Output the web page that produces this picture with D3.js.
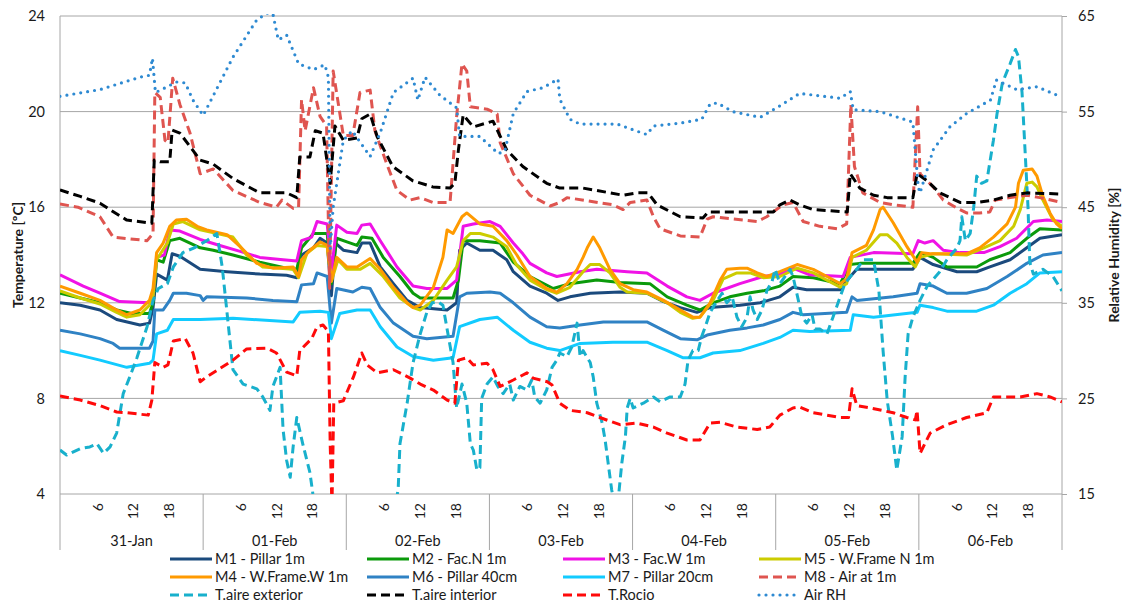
<!DOCTYPE html>
<html>
<head>
<meta charset="utf-8">
<title>Temperature and RH, 31-Jan to 06-Feb</title>
<style>
body { margin: 0; background: #fff; }
svg text { font-family: Lato, "Open Sans", sans-serif; fill: #1a1a1a; }
.grid line { stroke: #a6a6a6; stroke-width: 1; }
</style>
</head>
<body>
<svg width="1126" height="604"></svg>
<script src="https://d3js.org/d3.v7.min.js"></script>
<script>
// values, as [hour since 31-Jan 00:00, value]
var days = ["31-Jan", "01-Feb", "02-Feb", "03-Feb", "04-Feb", "05-Feb", "06-Feb"];
var hourTicks = [6, 12, 18];
var tempTicks = [4, 8, 12, 16, 20, 24];
var rhTicks = [15, 25, 35, 45, 55, 65];

var m1 = [[0,12.0],[3.4,11.9],[6.7,11.7],[9.5,11.3],[13.4,11.07],[15,11.15],[15.6,11.8],[16.2,13.2],[18,12.95],[18.8,14.05],[20.1,13.95],[23.5,13.4],[28,13.3],[33.5,13.2],[38,13.15],[39.7,13.05],[40.5,14.0],[42.5,14.3],[43.6,14.7],[44.8,14.5],[45.5,12.3],[46.2,14.5],[47.5,14.2],[49.8,14.1],[50.6,14.5],[52,14.5],[53.7,13.5],[55.9,12.8],[58.2,12.1],[60.4,11.8],[64.9,11.7],[66.5,12.0],[67,14.2],[68.2,14.5],[70.4,14.2],[72.6,14.2],[74.9,13.8],[76,13.3],[78.8,12.7],[81.6,12.4],[83.5,12.1],[85.5,12.25],[88.9,12.4],[93.9,12.45],[98.4,12.4],[101.2,12.05],[104,11.8],[106.8,11.6],[109,11.8],[114,11.9],[117.4,12.0],[120.7,12.25],[122.9,12.65],[125.2,12.55],[130.8,12.55],[132.5,13.1],[133.6,13.4],[143,13.4],[144.2,13.9],[146.4,13.6],[150.4,13.3],[153.7,13.3],[155.9,13.5],[159.3,13.8],[162.1,14.3],[164.3,14.7],[168,14.85]];
var m2 = [[0,12.4],[3.4,12.2],[6.7,12.0],[9.5,11.7],[12,11.55],[15,11.55],[15.6,12.0],[16.2,13.8],[17.3,13.7],[18.4,14.6],[20.1,14.7],[23.5,14.3],[25.7,14.2],[29,14.0],[33.5,13.7],[38,13.45],[39.7,13.4],[40.5,14.3],[42.5,14.9],[44.8,14.9],[45.5,12.8],[46.4,14.7],[48.1,14.55],[49.8,14.4],[50.6,14.75],[52.3,14.7],[54.2,13.9],[57,13.1],[59.2,12.4],[60.4,12.2],[65.9,12.2],[66.8,12.95],[67.6,14.6],[70.4,14.6],[73.8,14.5],[76,13.7],[78.8,13.1],[82.7,12.6],[85.5,12.8],[90,12.95],[93.9,12.85],[98.9,12.8],[101.8,12.25],[105.1,11.9],[107.3,11.7],[109.5,12.0],[112.3,12.25],[115.2,12.4],[117.9,12.5],[120.7,12.7],[122.9,13.1],[126.3,13.05],[130.8,12.8],[132.5,13.6],[134.1,13.65],[143,13.65],[144.2,14.1],[146.4,13.9],[148.7,13.5],[153.7,13.5],[155.9,13.8],[159.3,14.1],[162.1,14.7],[164.3,15.1],[168,15.05]];
var m3 = [[0,13.17],[3.9,12.7],[6.7,12.4],[10,12.05],[15,12.0],[15.6,12.3],[16.2,13.9],[17.5,14.0],[18.4,15.05],[20.1,15.0],[23.5,14.65],[26.8,14.4],[30.2,14.15],[33.5,13.9],[37.4,13.8],[39.7,13.75],[40.5,14.6],[42.2,14.75],[43.1,15.4],[44.8,15.3],[45.5,13.3],[46.4,15.25],[48.1,14.95],[49.8,14.9],[50.6,15.25],[52,15.3],[53.7,14.6],[56.5,13.5],[59.2,12.7],[61.5,12.6],[64.9,12.6],[66.5,12.95],[67.6,15.2],[69.3,15.3],[72.1,15.4],[73.8,15.2],[76,14.5],[77.6,14.05],[78.8,13.65],[81.6,13.25],[83.3,13.1],[87.2,13.3],[90,13.4],[95.1,13.3],[98.4,13.25],[101.8,12.7],[105.1,12.25],[107.3,12.1],[109.5,12.4],[114,12.8],[117.9,13.1],[120.7,13.2],[122.9,13.45],[125.7,13.17],[131.3,13.1],[132.5,13.9],[136.4,14.1],[143,14.05],[143.9,14.6],[145,14.5],[146.4,14.6],[148.1,14.2],[150.9,14.1],[154.9,14.1],[157.6,14.35],[160.4,14.7],[163.2,15.4],[165.5,15.46],[168,15.4]];
var m5 = [[0,12.5],[3.4,12.2],[6.7,11.95],[9.5,11.6],[11.2,11.4],[13.4,11.5],[15,11.9],[15.6,12.3],[16.2,13.8],[18,14.5],[19,15.3],[20.6,15.4],[23.5,15.05],[29,14.75],[31.3,14.0],[34,13.5],[39.1,13.4],[40,13.05],[41.4,14.07],[43.1,14.4],[44.8,14.35],[45.5,12.9],[46.6,13.8],[48.1,13.4],[50.3,13.4],[52,13.65],[54.2,13.1],[57,12.2],[59.2,11.8],[60.4,11.7],[62.6,12.1],[64.9,12.95],[66.5,13.5],[67.6,14.6],[68.8,14.9],[70.4,14.9],[72.6,14.75],[74.9,14.35],[76.5,13.6],[78.8,12.95],[81.6,12.55],[83.3,12.4],[85.5,12.65],[87.7,13.3],[88.9,13.6],[90.5,13.6],[92.2,13.25],[93.9,12.65],[95.1,12.45],[98.4,12.4],[101.8,12.0],[104,11.6],[106.1,11.35],[107.3,11.4],[109.5,12.1],[111.2,13.0],[113.5,13.25],[115.7,13.25],[117.9,13.05],[120.7,13.1],[123.6,13.45],[126.3,13.25],[130.8,12.65],[131.9,12.8],[132.8,13.9],[135.2,14.2],[137.5,14.85],[138.7,14.85],[140.3,14.5],[142,13.9],[143.4,13.5],[144.2,13.9],[146.4,14.05],[152,14.0],[154.9,14.3],[157.6,14.6],[159.9,15.2],[161,15.9],[162.1,17.0],[163,17.05],[163.8,16.85],[164.8,16.3],[166.5,15.46],[168,15.2]];
var m4 = [[0,12.7],[3.4,12.4],[6.7,12.1],[9.5,11.7],[11.2,11.5],[13.4,11.7],[15,12.1],[15.6,12.6],[16.2,14.1],[17.3,14.5],[18.4,15.2],[19.5,15.46],[21.2,15.5],[23,15.2],[24.6,15.05],[28,14.85],[30.2,14.35],[33,13.65],[35.7,13.45],[39.1,13.5],[40,13.1],[40.5,13.8],[41.9,14.2],[43.6,14.55],[44.8,14.4],[45.5,12.9],[46.4,13.9],[48.1,13.5],[49.8,13.5],[52,13.85],[53.7,13.4],[55.9,12.65],[58.2,12.0],[59.2,11.8],[60.4,11.9],[62.6,12.65],[64.2,13.9],[64.9,15.05],[65.9,14.9],[67.4,15.6],[68.2,15.76],[70.4,15.3],[72.6,15.2],[74.9,14.6],[76.6,14.0],[78.8,13.1],[81.6,12.6],[83.3,12.45],[85,12.8],[86.7,13.4],[87.7,13.9],[88.4,14.3],[89.4,14.75],[90.5,14.3],[92.2,13.4],[93.9,12.8],[96.1,12.55],[98.4,12.45],[101.2,12.1],[104,11.7],[106.1,11.4],[107.3,11.4],[109,12.0],[110.7,12.95],[111.8,13.4],[114,13.45],[115.2,13.45],[116.9,13.25],[118.5,13.1],[120.7,13.3],[123.6,13.6],[126.3,13.4],[128.6,13.1],[130.8,12.8],[131.9,13.0],[132.8,14.1],[135.2,14.4],[136.4,15.05],[137.5,15.9],[138,16.0],[139.7,15.35],[142,14.35],[143.7,13.7],[144.5,14.1],[145.9,14.05],[152,14.05],[154.2,14.3],[156.5,14.75],[158.8,15.3],[160.2,16.0],[160.7,17.0],[161.5,17.55],[163,17.6],[163.8,17.3],[164.8,16.45],[166,15.75],[167.1,15.3],[168,15.1]];
var m6 = [[0,10.85],[3.4,10.7],[6.7,10.5],[8.9,10.3],[10,10.1],[15,10.1],[15.6,10.4],[15.9,11.7],[17.3,11.7],[18.4,12.1],[19,12.4],[21.2,12.4],[23.5,12.3],[24,12.1],[24.6,12.25],[31.3,12.2],[35.7,12.1],[39.7,12.04],[40.5,12.75],[42.5,12.8],[43.1,13.25],[44.8,13.1],[45.5,11.15],[46.4,12.6],[49.1,12.45],[50.6,12.65],[52,12.6],[53.7,11.8],[55.9,11.15],[59.2,10.6],[61.5,10.5],[65.9,10.6],[67,12.25],[68.2,12.4],[72.1,12.45],[73.8,12.4],[76,12.0],[78.8,11.4],[81.6,11.0],[83.8,10.95],[87.2,11.07],[91.1,11.2],[98.4,11.2],[101.2,10.85],[104,10.5],[106.8,10.45],[108.5,10.65],[112.3,10.85],[115.2,10.95],[117.9,11.07],[120.7,11.3],[122.9,11.6],[124.6,11.5],[131.9,11.6],[132.8,12.25],[133.6,12.1],[139.7,12.25],[143.7,12.4],[144.2,12.8],[146.4,12.7],[148.7,12.4],[152,12.4],[155.4,12.6],[158.8,13.1],[162.1,13.65],[164.8,14.0],[168,14.1]];
var m7 = [[0,10.0],[3.4,9.8],[6.7,9.6],[11.2,9.3],[15,9.47],[15.6,9.6],[16.2,10.7],[18,10.85],[19,11.3],[23.5,11.3],[29,11.35],[39.1,11.2],[40.2,11.6],[43.6,11.65],[45,11.6],[45.5,10.5],[46.9,11.55],[49.8,11.7],[52,11.7],[53.7,11.0],[56.5,10.15],[59.2,9.75],[62.6,9.6],[65.9,9.7],[67,11.0],[70.4,11.3],[73.3,11.4],[76,10.85],[78.8,10.35],[81.6,10.1],[83.8,10.0],[87.2,10.3],[92.7,10.35],[98.4,10.35],[101.8,10.0],[104.5,9.7],[107.3,9.7],[109.5,9.9],[114,10.0],[117.9,10.3],[120.7,10.55],[122.9,10.85],[125.7,10.8],[132.5,10.85],[133,11.5],[136.4,11.4],[143.7,11.6],[144.2,11.9],[146.4,11.8],[148.7,11.65],[153.7,11.65],[156.5,11.9],[159.3,12.4],[162.1,12.8],[164.3,13.25],[168,13.3]];
var m8 = [[0,16.13],[3,16.0],[6.7,15.6],[8.9,14.75],[14.6,14.6],[15.6,14.9],[15.9,20.8],[16.8,20.6],[17.6,18.8],[18.1,18.7],[18.9,21.4],[20.1,20.3],[21.8,19.1],[23.5,17.4],[25.7,17.6],[29,16.7],[33.5,16.2],[36.3,16.0],[37.2,16.3],[39.1,15.95],[40,16.0],[40.5,20.5],[41.1,19.2],[42.5,21.0],[43.6,19.8],[44.7,19.4],[45.2,12.6],[45.8,21.7],[47.5,19.0],[49.1,19.0],[50.3,20.8],[52,20.9],[52.8,19.2],[54.8,17.8],[56.5,16.7],[58.7,16.3],[60.4,16.4],[62.5,16.2],[65.4,16.2],[66.5,19.8],[67.4,22.0],[68.2,21.7],[68.8,20.2],[71.6,20.1],[73.3,19.9],[73.8,18.7],[76,17.4],[78.8,16.5],[82.2,16.05],[83.8,16.2],[85,16.4],[92.7,16.1],[94.4,15.9],[95.6,16.2],[98.4,16.3],[99.5,15.6],[100.6,15.1],[104,14.8],[107.3,14.75],[108.5,15.5],[109.5,15.6],[116.9,15.4],[118.5,15.6],[121.2,16.1],[122.9,16.2],[124.6,15.4],[127.4,15.2],[130.3,15.1],[131.9,15.3],[132.6,20.3],[133.2,17.7],[134.6,16.6],[137.5,16.2],[139.7,16.1],[143,16.0],[143.8,20.2],[144.2,17.4],[146.4,16.85],[148.1,16.3],[150.4,15.96],[152,15.76],[154.2,15.76],[155.9,15.8],[156.8,16.3],[159.3,16.4],[162.1,16.5],[164.3,16.4],[168,16.2]];
var tExt = [[0,5.84],[1.1,5.63],[3.4,5.9],[5,5.97],[6.2,6.1],[7.3,5.7],[8.4,5.97],[9.5,6.55],[10.6,8.2],[11.7,8.9],[12.9,9.7],[14.6,11.0],[15.6,12.1],[16.5,12.6],[18,12.8],[19,13.5],[20.6,14.1],[22.5,14.3],[24.6,14.6],[26.3,14.9],[27.2,13.5],[28,11.6],[29,9.2],[30.7,8.6],[33,8.4],[34,8.06],[35.2,7.5],[35.7,8.5],[36.9,9.3],[37.4,6.7],[38,5.4],[38.6,4.7],[39.1,6.0],[39.7,7.2],[40.7,6.1],[41.9,4.9],[42.4,4.0],[43.5,2.5],[55.5,2.5],[56.7,4.2],[57,6.1],[58.2,7.8],[59.2,9.5],[60.4,10.7],[61.5,11.6],[62.4,12.0],[63.4,12.04],[64.2,11.9],[64.9,10.9],[65.9,9.5],[66.5,7.6],[67.4,8.6],[68.2,7.8],[68.8,6.1],[69.3,5.84],[69.9,5.0],[70.4,5.1],[70.7,8.0],[71.6,8.6],[72.6,8.9],[73.4,8.5],[74.3,8.2],[75.4,8.6],[76,7.93],[77.1,8.5],[78.3,8.35],[79.1,8.77],[79.6,8.06],[80.5,7.8],[81.6,8.35],[82.5,9.3],[83.3,9.6],[83.8,9.9],[85,9.75],[85.8,10.15],[86.7,11.15],[87.2,9.75],[87.7,10.0],[88.9,9.5],[89.4,8.9],[90,7.8],[90.9,6.97],[91.4,6.26],[91.9,5.3],[92.5,4.17],[92.8,3.8],[93.6,3.8],[94.2,5.3],[94.8,6.4],[95.1,7.6],[95.6,8.0],[96.1,7.6],[97.8,7.8],[99.5,8.06],[100.6,7.86],[102.3,8.06],[104,8.06],[104.8,8.6],[105.3,9.6],[106.1,10.0],[107,10.0],[107.6,10.6],[108.2,11.0],[109,11.6],[110.2,12.1],[111,12.4],[111.8,12.0],[112.7,12.25],[113.5,11.4],[114.3,11.0],[115.2,11.4],[115.7,12.25],[116.2,11.7],[116.9,11.3],[117.7,11.7],[118.5,12.5],[119.4,12.9],[119.9,13.4],[120.7,12.8],[122.4,13.4],[122.9,13.1],[123.8,12.1],[124.4,11.4],[125.2,11.15],[126.1,11.5],[126.6,10.9],[127.4,10.9],[128.6,10.7],[129.6,11.4],[130.8,12.25],[131.6,12.8],[132.5,13.1],[133.6,13.4],[134.7,13.8],[136.4,13.8],[137.3,12.5],[138,10.0],[138.7,7.9],[139.6,6.4],[140.3,5.0],[141.2,6.4],[141.7,8.9],[142.2,10.7],[143,11.4],[144.2,12.1],[145.4,12.7],[147.5,13.3],[148.7,13.8],[150.4,14.3],[150.9,14.6],[151.2,15.6],[151.8,14.6],[152.6,14.9],[153.2,16.0],[153.7,17.3],[154.5,17.0],[155.4,17.1],[156.5,18.8],[157.1,19.9],[158,21.2],[159.3,22.0],[160.2,22.6],[160.7,22.3],[161.3,20.8],[161.8,18.4],[162.3,16.0],[162.6,13.7],[163.2,13.2],[164.8,13.4],[166.5,13.1],[168,12.5]];
var tInt = [[0,16.72],[3.4,16.45],[6.7,16.17],[9,15.8],[11.2,15.46],[15.4,15.33],[15.8,17.97],[16.8,17.9],[18.4,17.9],[18.8,19.23],[20.1,19.1],[23.5,17.97],[25.7,17.8],[29,17.2],[33.5,16.6],[38,16.6],[39.7,16.4],[40.2,18.1],[41.9,18.1],[42.8,19.2],[44.1,19.1],[45.3,17.0],[46.1,19.4],[47.5,18.8],[49.8,18.9],[50.6,19.7],[52,19.9],[53.2,18.94],[55.8,17.7],[59.2,17.1],[62.5,16.85],[65.4,16.8],[66.2,17.0],[66.8,18.4],[67.6,19.86],[69.3,19.36],[72.6,19.6],[74.9,18.4],[77.6,17.7],[81.6,17.0],[83.8,16.8],[87.7,16.8],[90,16.7],[94.4,16.5],[96.7,16.6],[98.6,16.6],[100.1,16.1],[104,15.6],[107.8,15.55],[108.7,15.8],[119.6,15.8],[120.7,16.1],[122.4,16.3],[124,16.1],[126.3,15.9],[132,15.8],[132.5,17.4],[134.1,16.8],[136.4,16.5],[138.7,16.4],[143,16.4],[143.7,17.4],[145.4,17.1],[147.5,16.6],[150.9,16.2],[153.7,16.2],[156.5,16.3],[159.3,16.5],[162.1,16.6],[168,16.55]];
var tRocio = [[0,8.1],[3.4,7.93],[6.7,7.7],[9.5,7.43],[11.2,7.4],[14.8,7.3],[15.4,7.93],[15.9,9.5],[17.3,9.3],[18.1,9.4],[19,10.4],[21,10.5],[22.3,9.9],[23.5,8.7],[24.6,8.9],[29,9.6],[31.3,10.07],[34.7,10.1],[36.3,9.9],[38,9.1],[39.7,8.94],[40.2,10.0],[42.2,10.5],[43.1,11.0],[44.1,11.07],[45,10.8],[45.3,6.1],[45.6,3.5],[45.9,7.8],[47.5,7.9],[49.2,8.9],[50.6,9.9],[51.5,9.4],[53.2,9.07],[55.9,9.2],[58.7,8.85],[60.4,8.6],[62.6,8.35],[64.9,7.93],[66.2,7.8],[66.8,9.6],[68.2,9.7],[69.3,9.4],[71.6,9.47],[72.6,9.2],[73.8,8.5],[76,8.77],[78.3,9.07],[79.3,8.85],[81.7,8.7],[82.5,8.56],[83.8,7.8],[85.5,7.5],[88.4,7.4],[90.5,7.2],[93.9,6.9],[96.7,6.97],[99.5,6.8],[101.8,6.55],[105.1,6.26],[107.3,6.26],[109,6.97],[110.7,7.0],[113.5,6.8],[116.9,6.7],[119,6.8],[120.7,7.3],[122.9,7.6],[124,7.64],[126.3,7.4],[128.6,7.3],[130.8,7.2],[132.2,7.2],[132.8,8.4],[133.6,7.7],[135.8,7.6],[139.7,7.4],[142,7.2],[143.4,7.1],[143.7,7.5],[144.2,5.7],[145.9,6.55],[148.7,6.9],[152,7.2],[155.4,7.4],[156.5,8.06],[158.8,8.06],[161,8.06],[163.8,8.2],[166,8.06],[168,7.85]];
var airRH = [[0,56.6],[6.7,57.3],[13.4,58.6],[15,58.8],[15.5,60.6],[16,57.0],[18,57.6],[19.5,58.1],[21,58.0],[22.3,56.2],[24,54.6],[29,60.7],[33,64.6],[34.7,65.3],[35.7,65.2],[36.6,62.5],[38,63.0],[40,60.0],[42.5,59.4],[44.4,59.9],[45,58.6],[45.3,40.6],[45.8,45.0],[47.5,52.0],[49,53.0],[52,50.3],[53.7,52.8],[55.9,57.0],[59.2,58.5],[60,56.2],[61.2,58.6],[63.7,56.7],[66.5,55.4],[67,52.4],[70.4,52.4],[73.5,50.6],[74.6,50.9],[76,54.8],[78.3,57.1],[81,57.5],[83.5,58.4],[83.8,56.3],[85.5,54.2],[87.2,53.7],[93.4,53.7],[95.6,53.2],[98.4,52.6],[99.5,53.5],[104,53.8],[107.6,54.2],[109,55.8],[110.2,55.9],[112.8,55.0],[117.4,54.4],[120.7,55.6],[124,56.9],[130.8,56.4],[132.5,57.1],[133,55.2],[137.5,55.0],[143,53.9],[143.9,47.1],[144.2,46.5],[146.4,51.0],[149.2,53.4],[152,54.8],[156,56.2],[157,58.3],[160.4,57.3],[163.8,57.6],[168,56.5]];

var svg = d3.select("svg");
var plotL = 60, plotR = 1062, plotT = 16, plotB = 494;

var x = d3.scaleLinear().domain([0, 24 * days.length]).range([plotL, plotR]);
var yT = d3.scaleLinear().domain([4, 24]).range([plotB, plotT]);
var yH = d3.scaleLinear().domain([15, 65]).range([plotB, plotT]);

// series in drawing order; legend is laid out row by row in legendOrder
var series = [
  {name: "M1 - Pillar 1m", data: m1, color: "#1b4a7d", style: "solid"},
  {name: "M2 - Fac.N 1m", data: m2, color: "#0b9a0b", style: "solid"},
  {name: "M3 - Fac.W 1m", data: m3, color: "#f012e6", style: "solid"},
  {name: "M5 - W.Frame N 1m", data: m5, color: "#cccc00", style: "solid"},
  {name: "M4 - W.Frame.W 1m", data: m4, color: "#ff9a00", style: "solid"},
  {name: "M6 - Pillar 40cm", data: m6, color: "#2f82c4", style: "solid"},
  {name: "M7 - Pillar 20cm", data: m7, color: "#12cbff", style: "solid"},
  {name: "M8 - Air at 1m", data: m8, color: "#df5550", style: "dash"},
  {name: "T.aire exterior", data: tExt, color: "#18b0cc", style: "dash"},
  {name: "T.aire interior", data: tInt, color: "#000000", style: "dash"},
  {name: "T.Rocio", data: tRocio, color: "#ff0a0a", style: "dash"},
  {name: "Air RH", data: airRH, color: "#2e8ad2", style: "dot", rh: true}
];
var legendOrder = ["M1 - Pillar 1m", "M2 - Fac.N 1m", "M3 - Fac.W 1m", "M5 - W.Frame N 1m",
  "M4 - W.Frame.W 1m", "M6 - Pillar 40cm", "M7 - Pillar 20cm", "M8 - Air at 1m",
  "T.aire exterior", "T.aire interior", "T.Rocio", "Air RH"];

function applyStyle(sel, s) {
  sel.attr("fill", "none")
    .attr("stroke", s.color)
    .attr("stroke-width", 3);
  if (s.style == "dash") sel.attr("stroke-dasharray", "9,5");
  if (s.style == "dot") sel.attr("stroke-dasharray", "0,7").attr("stroke-linecap", "round").attr("stroke-width", 3.2);
}

// gridlines
svg.append("g").attr("class", "grid")
  .selectAll("line").data(tempTicks.slice(1)).enter().append("line")
  .attr("x1", plotL).attr("x2", plotR)
  .attr("y1", function(d) { return yT(d); })
  .attr("y2", function(d) { return yT(d); });

// axis lines
var axisCol = "#a6a6a6";
svg.append("line").attr("x1", plotL).attr("x2", plotL).attr("y1", plotT).attr("y2", plotB).attr("stroke", axisCol);
svg.append("line").attr("x1", plotR).attr("x2", plotR).attr("y1", plotT).attr("y2", plotB).attr("stroke", axisCol);
svg.append("line").attr("x1", plotL).attr("x2", plotR).attr("y1", plotB).attr("y2", plotB).attr("stroke", axisCol);

// left axis labels
var gl = svg.append("g").attr("transform", "translate(" + plotL + ",0)")
  .call(d3.axisLeft(yT).tickValues(tempTicks).tickSize(0).tickPadding(15));
gl.select(".domain").remove();
gl.selectAll("text").attr("font-size", 14.5).style("font-family", "Lato, sans-serif").attr("fill", "#1a1a1a");

// right axis labels
var gr = svg.append("g").attr("transform", "translate(" + plotR + ",0)")
  .call(d3.axisRight(yH).tickValues(rhTicks).tickSize(5).tickPadding(11));
gr.select(".domain").remove();
gr.selectAll("line").attr("stroke", axisCol);
gr.selectAll("text").attr("font-size", 14.5).style("font-family", "Lato, sans-serif").attr("fill", "#1a1a1a");

// axis titles
svg.append("text").attr("transform", "translate(18,255) rotate(-90)")
  .attr("text-anchor", "middle").attr("dy", "0.35em")
  .attr("font-size", 14).attr("font-weight", "bold").text("Temperature [ºC]");
svg.append("text").attr("transform", "translate(1114,255) rotate(-90)")
  .attr("text-anchor", "middle").attr("dy", "0.35em")
  .attr("font-size", 14).attr("font-weight", "bold").text("Relative Humidity [%]");

// x axis: day separators, hour labels, day labels
var dayIdx = d3.range(days.length + 1);
svg.append("g").selectAll("line").data(dayIdx).enter().append("line")
  .attr("x1", function(d) { return x(d * 24); })
  .attr("x2", function(d) { return x(d * 24); })
  .attr("y1", plotB).attr("y2", 550)
  .attr("stroke", axisCol);

var hourLabels = [];
days.forEach(function(d, i) {
  hourTicks.forEach(function(h) { hourLabels.push({h: i * 24 + h, label: h}); });
});
svg.append("g").selectAll("text").data(hourLabels).enter().append("text")
  .attr("transform", function(d) { return "translate(" + (x(d.h) + 2) + ",503) rotate(-90)"; })
  .attr("text-anchor", "end").attr("dy", "0.35em")
  .attr("font-size", 14)
  .text(function(d) { return d.label; });

svg.append("g").selectAll("text").data(days).enter().append("text")
  .attr("x", function(d, i) { return x(i * 24 + 12); })
  .attr("y", 541).attr("dy", "0.35em")
  .attr("text-anchor", "middle").attr("font-size", 14.5)
  .text(function(d) { return d; });

// plot lines
svg.append("clipPath").attr("id", "plotClip")
  .append("rect").attr("x", plotL).attr("y", plotT - 2).attr("width", plotR - plotL).attr("height", plotB - plotT + 2);

var plot = svg.append("g").attr("clip-path", "url(#plotClip)");
series.forEach(function(s) {
  var yScale = s.rh ? yH : yT;
  var line = d3.line()
    .x(function(d) { return x(d[0]); })
    .y(function(d) { return yScale(d[1]); });
  plot.append("path").datum(s.data).attr("d", line)
    .attr("stroke-linejoin", "round")
    .call(applyStyle, s);
});

// legend
var legCols = [170, 367, 563, 759];
var legRows = [559, 577, 595];
var legend = svg.append("g");
legendOrder.forEach(function(name, i) {
  var s = series.find(function(d) { return d.name == name; });
  var lx = legCols[i % 4], ly = legRows[Math.floor(i / 4)];
  legend.append("line").attr("x1", lx).attr("x2", lx + 42).attr("y1", ly).attr("y2", ly)
    .call(applyStyle, s);
  legend.append("text").attr("x", lx + 45).attr("y", ly).attr("dy", "0.35em")
    .attr("font-size", 14.5).text(name);
});
</script>
</body>
</html>
